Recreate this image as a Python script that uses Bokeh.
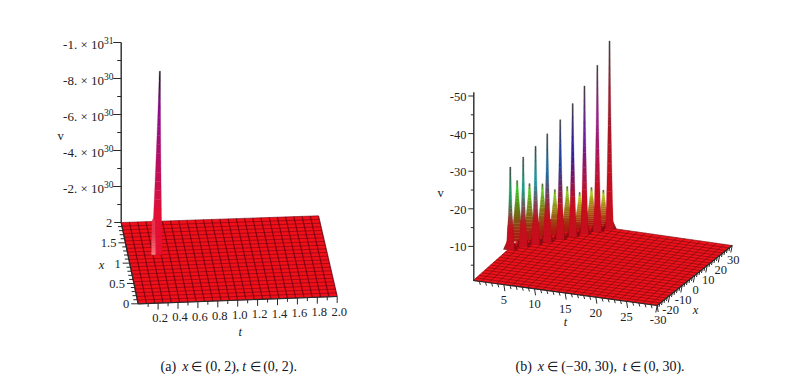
import colorsys
from bokeh.plotting import figure
from bokeh.models import Range1d
from bokeh.core.properties import value
from bokeh.embed import file_html
from bokeh.resources import INLINE

# ---------- data ----------
a_t_ticks = [0.2, 0.4, 0.6, 0.8, 1.0, 1.2, 1.4, 1.6, 1.8, 2.0]
a_x_ticks = [0, 0.5, 1, 1.5, 2]
a_x_labels = ["0", "0.5", "1", "1.5", "2"]
a_v_ticks = [-2e30, -4e30, -6e30, -8e30, -1e31]
a_v_labels = ["-2. × 10", "-4. × 10", "-6. × 10", "-8. × 10", "-1. × 10"]
a_v_powers = ["30", "30", "30", "30", "31"]
a_spike_t = [0.29]
a_spike_x = [1.18]
a_spike_v = [-1.02e31]

b_t_ticks = [5, 10, 15, 20, 25]
b_x_ticks = [-30, -20, -10, 0, 10, 20, 30]
b_v_ticks = [-10, -20, -30, -40, -50]
tall_t = [0.3, 1.7, 3.0, 4.2, 5.6, 6.9, 8.1, 9.45, 10.7]
tall_x = [0.3, 3.9, 7.5, 11.1, 14.7, 18.3, 21.9, 25.6, 29.2]
tall_v = [-21.9, -23.9, -26.1, -28.7, -31.8, -35.4, -39.4, -44.2, -50.0]
low_t = [0.0, 1.3, 2.7, 4.0, 5.3, 6.6, 7.8, 9.6]
low_x = [7.8, 11.4, 15.0, 18.6, 22.2, 25.8, 29.4, 29.9]
low_v = [-16.2, -14.7, -14.0, -11.8, -11.9, -9.7, -10.3, -9.9]
N_CELLS_A = (24, 22)
N_CELLS_B = (24, 24)

# ---------- projections of the two oblique 3-D boxes ----------
def bilinear(a, b, P00, P10, P11, P01):
    x = (1-a)*(1-b)*P00[0] + a*(1-b)*P10[0] + a*b*P11[0] + (1-a)*b*P01[0]
    y = (1-a)*(1-b)*P00[1] + a*(1-b)*P10[1] + a*b*P11[1] + (1-a)*b*P01[1]
    return x, y

A_CORNERS = ((137.7, 303.3), (336.7, 296.0), (318.0, 215.3), (120.7, 222.0))
B_CORNERS = ((472.7, 280.0), (656.7, 305.0), (731.7, 245.0), (542.5, 218.0))

def pa(t, x):
    return bilinear(t/2, x/2, *A_CORNERS)

def pb(t, x):
    return bilinear(t/30, (x+30)/60, *B_CORNERS)

A_V_PX = 18/1e30      # screen pixels per unit of v, panel a
B_V_PX = 3.76         # panel b

p = figure(width=799, height=383, output_backend="svg", toolbar_location=None,
           x_range=Range1d(0, 799), y_range=Range1d(383, 0), min_border=0)
p.axis.visible = False
p.grid.visible = False
p.outline_line_color = None
p.background_fill_color = "white"

FONT = "Liberation Serif"

def label(x, y, s, size="12.5px", align="center", style="normal", color="#222222"):
    p.text(x=[x], y=[y], text=[s], text_font=value(FONT), text_font_size=size,
           text_align=align, text_baseline="middle", text_font_style=style,
           text_color=color)

def surface(proj, tmax, xmin, xmax, n, fill, tline, xline):
    nt, nx = n
    ts = [tmax*i/nt for i in range(nt+1)]
    xs = [xmin+(xmax-xmin)*j/nx for j in range(nx+1)]
    c = [proj(0, xmin), proj(tmax, xmin), proj(tmax, xmax), proj(0, xmax)]
    p.patch([q[0] for q in c], [q[1] for q in c], fill_color=fill, line_color=None)
    lx, ly = [], []
    for x in xs:
        a, b = proj(0, x), proj(tmax, x)
        lx.append([a[0], b[0]]); ly.append([a[1], b[1]])
    p.multi_line(lx, ly, line_color=xline[0], line_width=xline[1], line_alpha=xline[2])
    lx, ly = [], []
    for t in ts:
        a, b = proj(t, xmin), proj(t, xmax)
        lx.append([a[0], b[0]]); ly.append([a[1], b[1]])
    p.multi_line(lx, ly, line_color=tline[0], line_width=tline[1], line_alpha=tline[2])

def mix(c1, c2, f):
    return tuple(c1[i]+(c2[i]-c1[i])*f for i in range(3))

def hexc(c):
    return "#%02x%02x%02x" % tuple(int(max(0, min(1, v))*255) for v in c)

def spike(bx, by, height, base, top, w0, power=1.2, lean=0.0, tip=(0.25, 0.25, 0.25),
          tipfrom=0.72, n=20, ramp=0.6, start=0.0):
    xs, ys, cols = [], [], []
    for i in range(n):
        f0, f1 = i/n, (i+1)/n
        h0 = w0/2*(1-f0)**power+0.6
        h1 = w0/2*(1-f1)**power+0.6
        c0 = bx+lean*f0
        c1 = bx+lean*f1
        y0, y1 = by-height*f0, by-height*f1
        xs.append([c0-h0, c0+h0, c1+h1, c1-h1])
        ys.append([y0, y0, y1, y1])
        fm = (f0+f1)/2
        col = mix(base, top, max(0, min(1, (fm-start)/(ramp-start))))
        if fm > tipfrom:
            col = mix(col, tip, (fm-tipfrom)/(1-tipfrom))
        cols.append(hexc(col))
    p.patches(xs, ys, fill_color=cols, line_color=cols, line_width=0.3)

def hue_rgb(frac, s=0.88, v=0.72):
    return colorsys.hsv_to_rgb(frac % 1.0, s, v)

# ---------- panel (a) ----------
surface(pa, 2, 0, 2, N_CELLS_A, "#f0101a",
        ("#640010", 1.2, 0.75), ("#6a0010", 0.8, 0.7))

# axes a
ax = "#2a2a2a"
c00, c20, c02 = pa(0, 0), pa(2, 0), pa(0, 2)
p.line([c00[0], c20[0]], [c00[1], c20[1]], line_color=ax, line_width=1.2)
p.line([c00[0], c02[0]], [c00[1], c02[1]], line_color=ax, line_width=1.2)
vtop = c02[1] + a_v_ticks[-1]*A_V_PX
p.line([c02[0], c02[0]], [c02[1], vtop], line_color=ax, line_width=1.4)

for i in range(1, 21):
    tv = i/10
    q = pa(tv, 0)
    ln = 6.5 if i % 2 == 0 else 3.5
    p.line([q[0], q[0]], [q[1], q[1]+ln], line_color=ax, line_width=1)
for tv in a_t_ticks:
    q = pa(tv, 0)
    label(q[0]+2, q[1]+15, "%.1f" % tv)
for i in range(0, 21):
    xv = i/10
    q = pa(0, xv)
    ln = 7 if i % 5 == 0 else 4
    p.line([q[0]-ln, q[0]], [q[1], q[1]], line_color=ax, line_width=1)
for xv, s in zip(a_x_ticks, a_x_labels):
    q = pa(0, xv)
    label(q[0]-9, q[1]+0.5, s, align="right")
for i in range(1, 11):
    y = c02[1] - i*1e30*A_V_PX
    ln = 8 if i % 2 == 0 else 4
    p.line([c02[0]-ln, c02[0]], [y, y], line_color=ax, line_width=1)
for tv, s, pw in zip(a_v_ticks, a_v_labels, a_v_powers):
    y = c02[1] + tv*A_V_PX
    label(103.5, y+1.5, s, size="13px", align="right")
    label(103.5, y-2, pw, size="9.5px", align="left")

# spike a
for t, x, v in zip(a_spike_t, a_spike_x, a_spike_v):
    bx, by = pa(t, x)
    spike(bx, by, -v*A_V_PX, (0.90, 0.06, 0.20), (0.55, 0.06, 0.55), 9.0, power=1.25, lean=3.0,
          tip=(0.08, 0.08, 0.08), tipfrom=0.8, ramp=0.78, start=0.2)
    spike(bx-3.4, by, 36, (0.96, 0.50, 0.50), (0.90, 0.22, 0.32), 2.6, power=0.2, tipfrom=2)

label(101, 264, "x", style="italic")
label(239.7, 331, "t", style="italic")
label(60, 135, "v")

# ---------- panel (b) ----------
surface(pb, 30, -30, 30, N_CELLS_B, "#ee121a",
        ("#7a0a12", 0.9, 0.7), ("#7a0a12", 0.9, 0.7))

# low rear row of spikes: hue follows height
for t, x, v in zip(low_t, low_x, low_v):
    bx, by = pb(t, x)
    spike(bx, by, -v*B_V_PX, (0.66, 0.12, 0.06),
          hue_rgb(-v/51, 0.85, 0.80), 10.5, power=1.25,
          tip=(0.30, 0.32, 0.20), tipfrom=0.88, ramp=0.88, start=0.1)

# tall front row
for t, x, v in zip(tall_t, tall_x, tall_v):
    bx, by = pb(t, x)
    spike(bx, by, 13, (0.50, 0.05, 0.08), (0.62, 0.08, 0.10), 12.5, power=0.9, tipfrom=2)
    spike(bx, by, 34, (0.84, 0.07, 0.10), (0.70, 0.06, 0.12), 6.5, power=0.45, tipfrom=2)
    spike(bx, by, -v*B_V_PX, (0.78, 0.06, 0.12),
          hue_rgb(-v/51, 0.80, 0.60), 6.0, power=1.5,
          tip=(0.25, 0.25, 0.25), tipfrom=0.72, ramp=0.62, start=0.25)

# axes b
b00, b30, b33 = pb(0, -30), pb(30, -30), pb(30, 30)
p.line([b00[0], b30[0]], [b00[1], b30[1]], line_color=ax, line_width=1.2)
p.line([b30[0], b33[0]], [b30[1], b33[1]], line_color=ax, line_width=1.2)
v0y = 283.5
p.line([473.3, 473.3], [b00[1], v0y - 51*B_V_PX], line_color=ax, line_width=1.4)

for i in range(1, 31):
    q = pb(i, -30)
    ln = 6.5 if i % 5 == 0 else 3.5
    p.line([q[0], q[0]+1], [q[1], q[1]+ln], line_color=ax, line_width=1)
for tv in b_t_ticks:
    q = pb(tv, -30)
    label(q[0], q[1]+15.5, str(tv))
for i in range(-15, 16):
    q = pb(30, i*2)
    ln = 7 if i % 5 == 0 else 3.5
    p.line([q[0]-ln*0.2, q[0]], [q[1]+ln, q[1]], line_color=ax, line_width=1)
for xv in b_x_ticks:
    q = pb(30, xv)
    label(q[0]+1, q[1]+14.5, str(xv))
for i in range(1, 11):
    y = v0y - i*5*B_V_PX
    ln = 5.5 if i % 2 == 0 else 3
    p.line([473.3-ln, 473.3], [y, y], line_color=ax, line_width=1)
for tv in b_v_ticks:
    label(466, v0y + tv*B_V_PX + 1, str(tv), align="right")

label(695, 309.3, "x", style="italic")
label(565, 321.7, "t", style="italic")
label(440, 192, "v")

# ---------- captions ----------
CAP = "14px"
cap_color = "#111122"
for x0, s, st in [(160, "(a)", "normal"), (181.7, "x", "italic"), (190.7, "∈", "normal"),
                  (205, "(0, 2),", "normal"), (241.7, "t", "italic"), (249, "∈", "normal"),
                  (262.7, "(0, 2).", "normal")]:
    label(x0, 366, s, size="13px" if s == "∈" else CAP, align="left", style=st, color=cap_color)
for x0, s, st in [(515, "(b)", "normal"), (537.3, "x", "italic"), (546.3, "∈", "normal"),
                  (560.7, "(−30, 30),", "normal"), (622.3, "t", "italic"), (629.7, "∈", "normal"),
                  (643.3, "(0, 30).", "normal")]:
    label(x0, 366, s, size="13px" if s == "∈" else CAP, align="left", style=st, color=cap_color)

open("out.html", "w").write(file_html(p, INLINE))
